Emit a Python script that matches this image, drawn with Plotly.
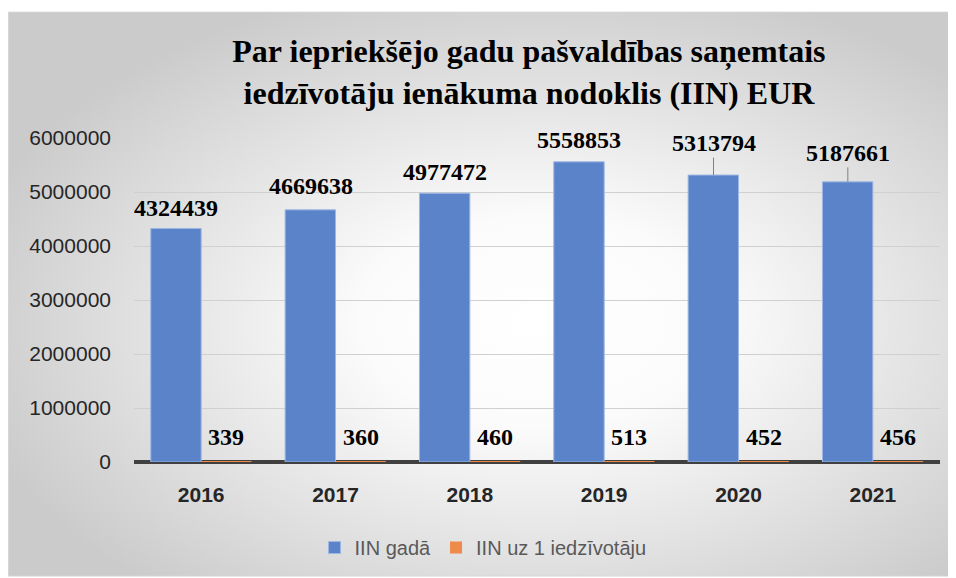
import base64
import plotly.graph_objects as go

# data
years = ["2016", "2017", "2018", "2019", "2020", "2021"]
iin_gada = [4324439, 4669638, 4977472, 5558853, 5313794, 5187661]
iin_uz_iedz = [339, 360, 460, 513, 452, 456]
y_ticks = [0, 1000000, 2000000, 3000000, 4000000, 5000000, 6000000]

# label placement (px above bar top); last two have leader lines
label_lift = [20, 24, 21, 22, 32, 29]
leader = [False, False, False, False, True, True]

BLUE = "#5b83ca"
ORANGE = "#ee8a4a"
SERIF = "Liberation Serif, Times New Roman, serif"
SANS = "Liberation Sans, Arial, sans-serif"

# page body adds an 8px margin, so the figure is 8px smaller each way
W, H = 948, 570
L, R, T, B = 126, 16, 130, 115
pw, ph = W - L - R, H - T - B
box = (0, 3, 948, 570)

svg = """<svg xmlns='http://www.w3.org/2000/svg' width='948' height='567' viewBox='0 0 948 567' preserveAspectRatio='none'>
<defs><radialGradient id='g' cx='0.56' cy='0.55' r='0.62'>
<stop offset='0' stop-color='#ffffff'/><stop offset='0.3' stop-color='#fbfbfb'/>
<stop offset='1' stop-color='#cbcbcb'/></radialGradient></defs>
<rect x='0.5' y='0.5' width='947' height='566' fill='url(#g)' stroke='#d6d6d6' stroke-width='1'/>
</svg>"""
bg_src = "data:image/svg+xml;base64," + base64.b64encode(svg.encode()).decode()

fig = go.Figure()
fig.add_trace(go.Bar(
    x=years, y=iin_gada, name="IIN gadā",
    marker=dict(color=BLUE, line=dict(color="#9db6e3", width=1)),
))
fig.add_trace(go.Bar(
    x=years, y=iin_uz_iedz, name="IIN uz 1 iedzīvotāju",
    marker=dict(color=ORANGE, line=dict(width=0)),
))

# annotations on a category axis: x given as category index
label_font = dict(family=SERIF, size=24, color="#000000", weight="bold")
annotations = []
for i, yr in enumerate(years):
    a = dict(x=i, y=iin_gada[i], xref="x", yref="y", text=str(iin_gada[i]),
             font=label_font, xshift=-25)
    if leader[i]:
        a.update(showarrow=True, arrowhead=0, arrowwidth=1, arrowcolor="#808080",
                 ax=0, ay=-label_lift[i], standoff=0)
    else:
        a.update(showarrow=False, yanchor="middle", yshift=label_lift[i])
    annotations.append(a)
    annotations.append(dict(
        x=i, y=iin_uz_iedz[i], xref="x", yref="y", text=str(iin_uz_iedz[i]),
        showarrow=False, yanchor="middle", yshift=25, xshift=25,
        font=label_font,
    ))

fig.update_layout(
    width=W, height=H,
    margin=dict(l=L, r=R, t=T, b=B),
    paper_bgcolor="#ffffff",
    plot_bgcolor="rgba(0,0,0,0)",
    barmode="group",
    bargap=0.25,
    bargroupgap=0.0,
    title=dict(
        text="Par iepriekšējo gadu pašvaldības saņemtais<br>iedzīvotāju ienākuma nodoklis (IIN) EUR",
        font=dict(family=SERIF, size=32, color="#000000", weight="bold"),
        x=0.49, xref="paper", xanchor="center",
        y=1 - 54 / H, yref="container", yanchor="middle",
    ),
    xaxis=dict(
        type="category", range=[-0.5, len(years) - 0.5],
        showgrid=False, zeroline=False, showline=False, ticks="",
        tickfont=dict(family=SANS, size=21, color="#262626", weight="bold"),
        ticklabelstandoff=18,
    ),
    yaxis=dict(
        range=[0, 6000000], tickvals=y_ticks, ticktext=[str(v) for v in y_ticks],
        showgrid=True, gridcolor="#d0d0d0", gridwidth=1,
        zeroline=True, zerolinecolor="#404040", zerolinewidth=4,
        showline=False, ticks="",
        tickfont=dict(family=SANS, size=21, color="#262626"),
        ticklabelstandoff=22,
    ),
    legend=dict(
        orientation="h", x=0.224, xanchor="left", y=-0.26, yanchor="middle",
        font=dict(family=SANS, size=20, color="#595959"),
        bgcolor="rgba(0,0,0,0)", itemwidth=30,
    ),
    annotations=annotations,
    images=[dict(
        source=bg_src, xref="paper", yref="paper",
        x=(box[0] - L) / pw, y=(H - box[1] - B) / ph,
        sizex=(box[2] - box[0]) / pw, sizey=(box[3] - box[1]) / ph,
        sizing="stretch", layer="below", xanchor="left", yanchor="top",
    )],
)

fig.write_html("out.html")
